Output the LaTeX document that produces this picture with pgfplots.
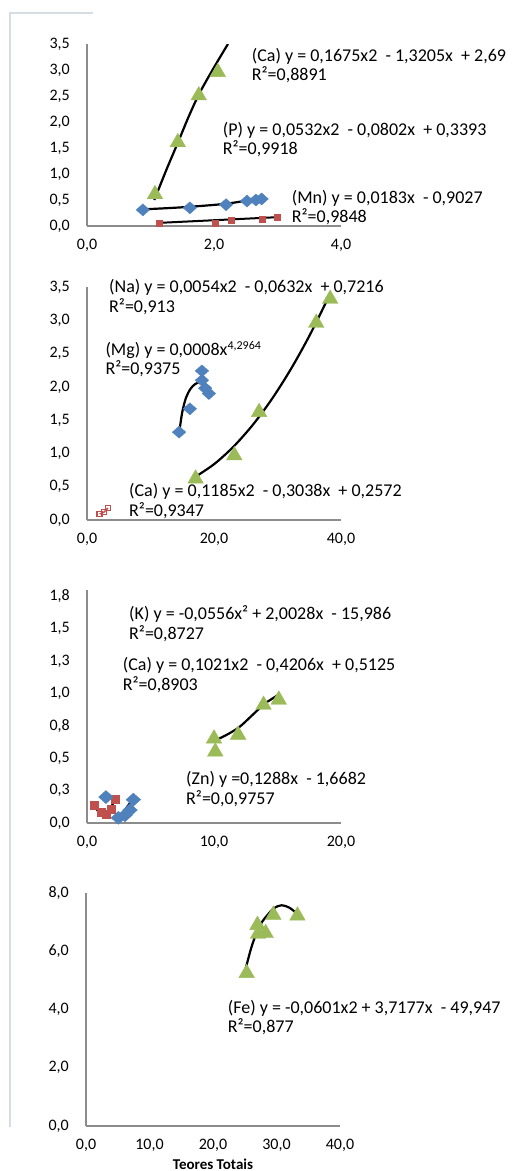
\documentclass[border=0pt]{standalone}
\usepackage{pgfplots}
\pgfplotsset{compat=1.18}
\usepackage{fontspec}
\setmainfont{Carlito}
\definecolor{cgreen}{HTML}{9BBB59}
\definecolor{cblue}{HTML}{4F81BD}
\definecolor{cred}{HTML}{C0504D}
\definecolor{caxis}{HTML}{8C8C8C}
\definecolor{cframe}{HTML}{D6DCE4}
\pgfplotsset{
  panel/.style={
    scale only axis, anchor=south west, width=254pt,
    axis x line=bottom, axis y line=left,
    axis line style={caxis, line width=2pt, -},
    major tick length=0pt,
    tick label style={font=\fontsize{16}{16}\selectfont},
    /pgf/number format/fixed, /pgf/number format/fixed zerofill,
    /pgf/number format/precision=1, /pgf/number format/use comma,
    /pgf/number format/assume math mode=true,
    yticklabel style={anchor=east, inner sep=0pt, xshift=-17pt},
    xticklabel style={anchor=center, inner sep=0pt, yshift=-19pt},
  },
  trend/.style={black, line width=2.2pt, smooth, no markers},
  tri/.style={only marks, mark=triangle*, mark size=9pt, color=cgreen, mark options={draw=cgreen, fill=cgreen}},
  dia/.style={only marks, mark=diamond*, mark size=6pt, color=cblue, mark options={xscale=1.5, draw=cblue, fill=cblue}},
  sq/.style={only marks, mark=square*, mark size=3pt, color=cred, mark options={draw=cred, fill=cred}},
}
\tikzset{lbl/.style={anchor=base west, inner sep=0pt, font=\fontsize{18}{20}\selectfont}}
\begin{document}
\begin{tikzpicture}[x=1pt,y=1pt]
\path[use as bounding box] (0,0) rectangle (512,-1171);
\draw[cframe, line width=1.5pt] (93,-13) -- (10,-13) -- (10,-1127);

% ---------- Panel 1 ----------
\begin{axis}[panel, at={(87pt,-226pt)}, height=182pt,
  xmin=0, xmax=4, ymin=0, ymax=3.5, xtick={0,2,4}, ytick={0,0.5,...,3.5}]
\addplot[tri] coordinates {(1.07,0.61) (1.43,1.61) (1.76,2.51) (2.06,2.96)};
\addplot[trend] coordinates {(1.06,0.5) (1.25,1.08) (1.43,1.6) (1.6,2.1) (1.77,2.55) (2.0,3.05) (2.22,3.5)};
\addplot[dia] coordinates {(0.88,0.31) (1.62,0.35) (2.19,0.41) (2.52,0.48) (2.66,0.50) (2.75,0.52)};
\addplot[trend] coordinates {(0.88,0.32) (1.5,0.36) (2.2,0.43) (2.75,0.54)};
\addplot[sq] coordinates {(1.13,0.06) (2.02,0.06) (2.27,0.11) (2.76,0.13) (3.0,0.16)};
\addplot[black, line width=2pt, no markers] coordinates {(1.13,0.06) (3.0,0.17)};
\end{axis}
\node[lbl] at (251.7,-61.7) {(Ca) y = 0,1675x2 ~- 1,3205x ~+ 2,69};
\node[lbl] at (251.7,-80) {R²=0,8891};
\node[lbl] at (222.7,-135) {(P) y = 0,0532x2 ~- 0,0802x ~+ 0,3393};
\node[lbl] at (222.7,-154) {R²=0,9918};
\node[lbl] at (291.7,-203.3) {(Mn) y = 0,0183x ~- 0,9027};
\node[lbl] at (291.7,-222.3) {R²=0,9848};

% ---------- Panel 2 ----------
\begin{axis}[panel, at={(87pt,-520pt)}, height=233pt,
  xmin=0, xmax=40, ymin=0, ymax=3.5, xtick={0,20,40}, ytick={0,0.5,...,3.5}]
\addplot[dia] coordinates {(14.5,1.32) (16.2,1.67) (18.1,2.24) (18.1,2.10) (18.6,1.98) (19.2,1.90)};
\addplot[trend] coordinates {(14.5,1.30) (15.0,1.62) (15.6,1.84) (16.3,1.97) (17.0,2.04) (17.8,2.07) (18.6,2.04) (19.3,1.99)};
\addplot[tri] coordinates {(17.1,0.62) (23.2,0.97) (27.1,1.62) (36.1,2.96) (38.3,3.32)};
\addplot[trend] coordinates {(17.1,0.65) (20.1,0.845) (23.1,1.105) (26.1,1.428) (29.1,1.815) (32.1,2.266) (35.1,2.781) (38.3,3.4)};
\addplot[cred, line width=1.5pt, mark=square, mark size=2.5pt, mark options={draw=cred, fill=white}] coordinates {(2.0,0.09) (2.7,0.12) (3.3,0.18)};
\end{axis}
\node[lbl] at (109,-292.3) {(Na) y = 0,0054x2 ~- 0,0632x ~+ 0,7216};
\node[lbl] at (109,-312.3) {R²=0,913};
\node[lbl] at (105.3,-355) {(Mg) y = 0,0008x\raisebox{6pt}{\fontsize{12}{12}\selectfont 4,2964}};
\node[lbl] at (105.3,-374) {R²=0,9375};
\node[lbl] at (129,-496) {(Ca) y = 0,1185x2 ~- 0,3038x ~+ 0,2572};
\node[lbl] at (129,-516) {R²=0,9347};

% ---------- Panel 3 ----------
\begin{axis}[panel, at={(87pt,-823pt)}, height=233.5pt,
  xmin=0, xmax=20, ymin=0, ymax=1.8, xtick={0,10,20},
  ytick={0,0.25,0.5,0.75,1.0,1.25,1.5,1.75},
  yticklabels={{0,0},{0,3},{0,5},{0,8},{1,0},{1,3},{1,5},{1,8}}]
\addplot[tri] coordinates {(10.0,0.65) (10.1,0.55) (11.9,0.68) (13.9,0.91) (15.1,0.95)};
\addplot[trend] coordinates {(9.95,0.63) (11,0.68) (12,0.74) (13,0.83) (14,0.92) (15.1,0.99)};
\addplot[sq, mark size=4pt] coordinates {(0.6,0.14) (1.1,0.08) (1.5,0.07) (1.9,0.11) (2.2,0.18)};
\addplot[trend] coordinates {(0.45,0.15) (0.8,0.1) (1.28,0.06) (1.8,0.1) (2.2,0.19)};
\addplot[dia, mark size=6.5pt] coordinates {(1.49,0.20) (2.47,0.04) (2.99,0.06) (3.39,0.10) (3.65,0.18)};
\addplot[trend] coordinates {(2.47,0.04) (2.91,0.09) (3.2,0.13) (3.52,0.17)};
\end{axis}
\node[lbl] at (129,-619.3) {(K) y = -0,0556x² + 2,0028x ~- 15,986};
\node[lbl] at (129,-639) {R²=0,8727};
\node[lbl] at (122.7,-670.7) {(Ca) y = 0,1021x2 ~- 0,4206x ~+ 0,5125};
\node[lbl] at (122.7,-690) {R²=0,8903};
\node[lbl] at (186,-784) {(Zn) y =0,1288x ~- 1,6682};
\node[lbl] at (186,-804) {R²=0,0,9757};

% ---------- Panel 4 ----------
\begin{axis}[panel, at={(86pt,-1126pt)}, height=233pt,
  xmin=0, xmax=40, ymin=0, ymax=8, xtick={0,10,...,40}, ytick={0,2,...,8},
  xlabel={\textbf{Teores Totais}},
  xlabel style={font=\fontsize{15}{15}\selectfont, at={(axis description cs:0.5,0)}, anchor=center, yshift=-38pt}]
\addplot[tri] coordinates {(25.3,5.25) (27.0,6.9) (27.1,6.6) (28.3,6.62) (29.5,7.25) (33.3,7.22)};
\addplot[trend] coordinates {(25.2,5.45) (26.0,6.1) (26.8,6.6) (27.7,7.0) (28.6,7.25) (29.6,7.48) (30.8,7.58) (32.0,7.5) (33.2,7.3)};
\end{axis}
\node[lbl] at (227.7,-1013.3) {(Fe) y = -0,0601x2 + 3,7177x ~- 49,947};
\node[lbl] at (227.7,-1032.3) {R²=0,877};
\end{tikzpicture}
\end{document}
